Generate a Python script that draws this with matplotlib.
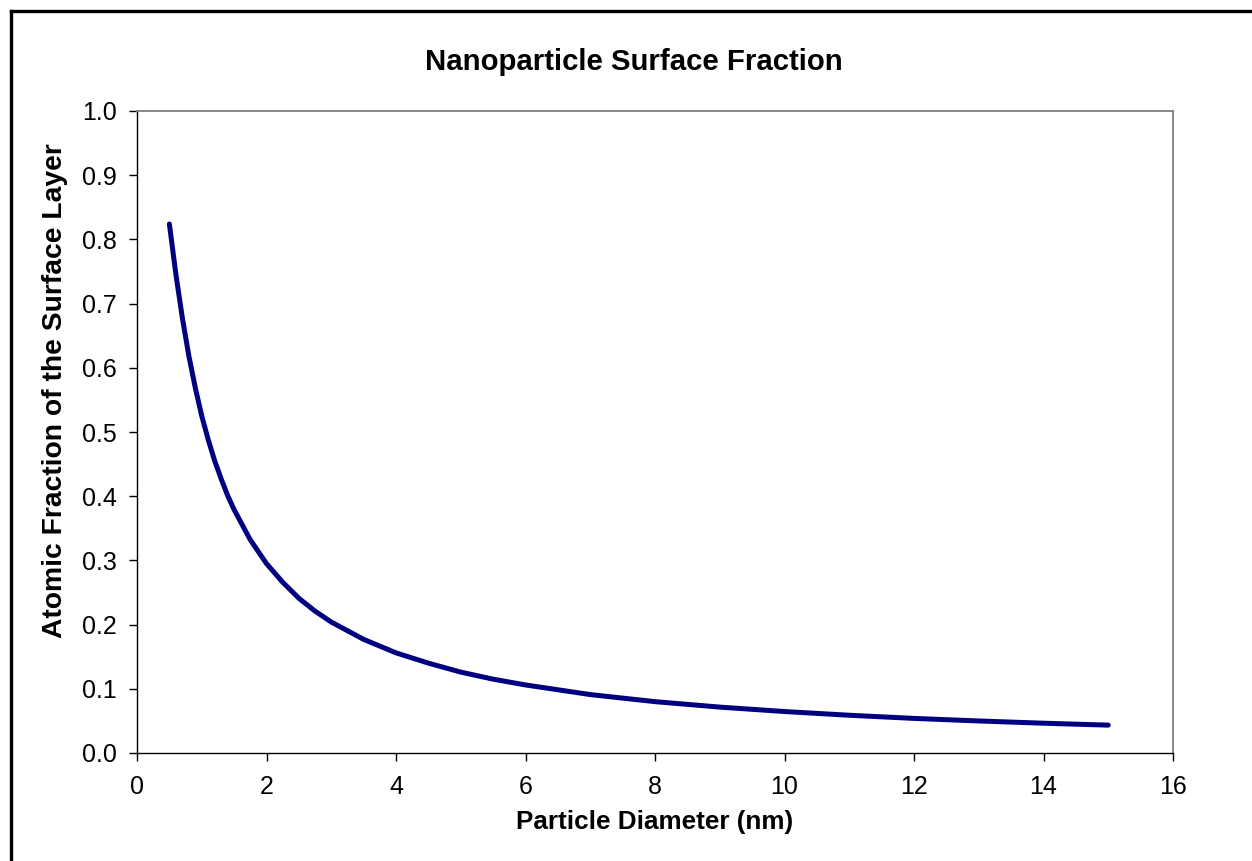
import matplotlib
matplotlib.use("Agg")
import matplotlib.pyplot as plt
from matplotlib.lines import Line2D

diameter_nm = [0.5, 0.6, 0.7, 0.8, 0.9, 1.0, 1.1, 1.2, 1.3, 1.4, 1.5, 1.75, 2.0, 2.25, 2.5,
               2.75, 3.0, 3.5, 4.0, 4.5, 5.0, 5.5, 6.0, 7.0, 8.0, 9.0, 10.0, 11.0, 12.0,
               13.0, 14.0, 15.0]
surface_fraction = [0.824, 0.746, 0.678, 0.619, 0.569, 0.525, 0.488, 0.455, 0.427, 0.401,
                    0.379, 0.332, 0.295, 0.266, 0.241, 0.221, 0.204, 0.177, 0.156, 0.140,
                    0.126, 0.115, 0.106, 0.091, 0.080, 0.0715, 0.0646, 0.0588, 0.0539,
                    0.0499, 0.0464, 0.0434]
x_ticks = [0, 2, 4, 6, 8, 10, 12, 14, 16]
y_ticks = [0.0, 0.1, 0.2, 0.3, 0.4, 0.5, 0.6, 0.7, 0.8, 0.9, 1.0]

plt.rcParams['font.family'] = ['Liberation Sans', 'DejaVu Sans']

W, H = 1252, 861
fig = plt.figure(figsize=(W / 100, H / 100), dpi=100)
fig.patch.set_facecolor('white')

ax = fig.add_axes([137 / W, 1 - 753 / H, (1173 - 137) / W, (753 - 111) / H])
ax.plot(diameter_nm, surface_fraction, color='#000080', lw=3.6,
        solid_capstyle='round', solid_joinstyle='round')

ax.set_xlim(0, 16)
ax.set_ylim(0, 1.0)
ax.set_xticks(x_ticks)
ax.set_xticklabels([str(t) for t in x_ticks])
ax.set_yticks(y_ticks)
ax.set_yticklabels([f"{t:.1f}" for t in y_ticks])
ax.tick_params(axis='both', direction='out', length=6, width=1, labelsize=18,
               color='black', labelcolor='black')
ax.tick_params(axis='x', pad=10)
ax.tick_params(axis='y', pad=8.5)

for s in ['top', 'right']:
    ax.spines[s].set_color('#808080')
    ax.spines[s].set_linewidth(1.3)
for s in ['left', 'bottom']:
    ax.spines[s].set_color('black')
    ax.spines[s].set_linewidth(1.0)

ax.set_xlabel('Particle Diameter (nm)', fontsize=18.8, fontweight='bold', labelpad=8)
ax.set_ylabel('Atomic Fraction of the Surface Layer', fontsize=20.3, fontweight='bold', labelpad=10)
ax.yaxis.label.set_y(0.565)
fig.text(634 / W, 1 - 70 / H, 'Nanoparticle Surface Fraction', ha='center', va='baseline',
         fontsize=21.2, fontweight='bold')

# outer chart border (left and top visible)
fig.add_artist(Line2D([10.5 / W, 10.5 / W], [0, 1 - 10.5 / H], transform=fig.transFigure,
                      color='black', lw=2.4, solid_capstyle='projecting'))
fig.add_artist(Line2D([10.5 / W, 1], [1 - 10.5 / H, 1 - 10.5 / H], transform=fig.transFigure,
                      color='black', lw=2.4, solid_capstyle='projecting'))

fig.savefig('out.png', dpi=100)
